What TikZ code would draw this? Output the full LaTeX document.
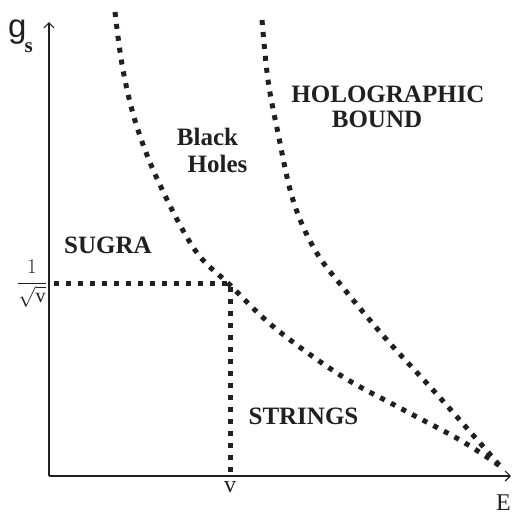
\documentclass[tikz,border=0pt]{standalone}
\usepackage{fontspec}
\setmainfont{Liberation Serif}
\newfontfamily\axisfont{Liberation Sans}
\usetikzlibrary{arrows.meta}
\definecolor{ink}{HTML}{231F20}

\begin{document}
\begin{tikzpicture}[
    x=1pt, y=-1pt,
    % Styles
    axis/.style={
        -{Straight Barb[length=5pt, width=10pt]},
        draw=ink,
        line width=1.2pt
    },
    boundary/.style={
        draw=ink,
        line width=5pt,
        dash pattern=on 5pt off 7pt
    },
    region/.style={
        font=\bfseries\fontsize{25}{27}\selectfont,
        text=ink,
        inner sep=0pt,
        anchor=base
    },
    ticklabel/.style={
        font=\fontsize{24}{26}\selectfont,
        text=ink,
        inner sep=0pt,
        anchor=base
    }
]
    \useasboundingbox (0,0) rectangle (512,515);

    % ================= AXES =================
    \coordinate (origin) at (49,476);
    \coordinate (ytip) at (49,22);
    \coordinate (xtip) at (511,476);
    \draw[axis] (origin) -- (ytip);
    \draw[axis] (origin) -- (xtip);

    \node[ticklabel, anchor=base west, font=\axisfont\fontsize{33}{34}\selectfont] (gs) at (8,37)
        {g\kern-2pt\raisebox{-15pt}{\rmfamily\bfseries\fontsize{21}{21}\selectfont s}};
    \node[ticklabel, anchor=base west] (energy) at (496,510) {E};
    \node[ticklabel] (vval) at (230,492) {v};
    \node[ticklabel, font=\fontsize{20}{22}\selectfont] (gval) at (32,288)
        {$\displaystyle\frac{1}{\sqrt{\mbox{v}}}$};

    % ================= SELF-DUAL POINT =================
    \coordinate (ymark) at (49,283);
    \coordinate (cross) at (230,283);
    \coordinate (xmark) at (230,476);
    \draw[boundary, dash phase=-5pt] (ymark) -- (cross) -- (xmark);

    % ================= BOUNDARIES =================
    % Black hole line
    \draw[boundary] plot[smooth, tension=0.6] coordinates {
        (115,12) (123,70) (137,127) (160,185) (195,250) (230,285)
        (275,328) (340,375) (400,408) (460,440) (500,466)};
    % Holographic bound
    \draw[boundary] plot[smooth, tension=0.6] coordinates {
        (262,20) (268,80) (278,133) (293,200) (315,250) (345,290)
        (387,340) (433,390) (480,443) (500,466)};

    % ================= REGIONS =================
    \node[region] (sugra) at (108,253) {SUGRA};
    \node[region] (black) at (207.5,145) {Black};
    \node[region] (holes) at (217.5,172) {Holes};
    \node[region] (holo) at (388,102) {HOLOGRAPHIC};
    \node[region] (bound) at (377,127) {BOUND};
    \node[region] (strings) at (303.5,424) {STRINGS};

\end{tikzpicture}
\end{document}
